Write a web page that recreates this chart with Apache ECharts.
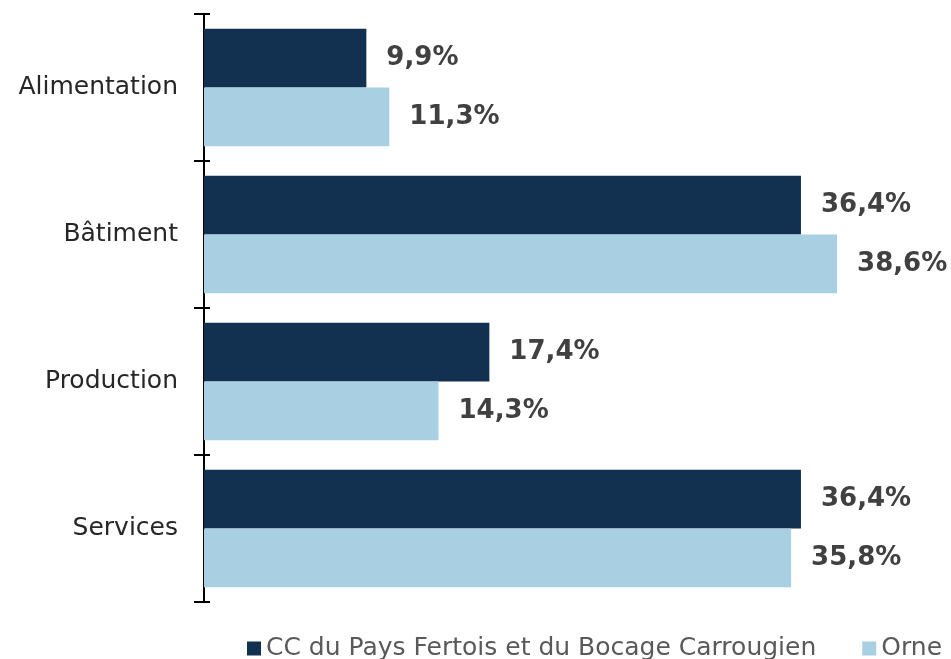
<!DOCTYPE html>
<html><head><meta charset="utf-8">
<script src="https://cdn.jsdelivr.net/npm/echarts@6/dist/echarts.min.js"></script>
<style>html,body{margin:0;padding:0;background:#fff}#c{width:951px;height:659px}</style>
</head><body><div id="c"></div>
<script>
const categories = ["Alimentation", "Bâtiment", "Production", "Services"];
const seriesNames = ["CC du Pays Fertois et du Bocage Carrougien", "Orne"];
const ccValues = [9.9, 36.4, 17.4, 36.4];
const orneValues = [11.3, 38.6, 14.3, 35.8];

const chart = echarts.init(document.getElementById('c'));
const fmt = p => p.value.toFixed(1).replace('.', ',') + '%';
const lbl = {show: true, position: 'right', distance: 20, formatter: fmt,
  fontFamily: 'DejaVu Sans', fontWeight: 'bold', fontSize: 26, color: '#404040'};
chart.setOption({
  animation: false,
  grid: {left: 204, right: 9, top: 14, bottom: 57},
  legend: {top: 636, left: 247, right: 0, itemWidth: 14, itemHeight: 14, itemGap: 46,
    icon: 'rect', padding: 0,
    textStyle: {fontFamily: 'DejaVu Sans', fontSize: 25, color: '#595959'},
    data: seriesNames},
  xAxis: {type: 'value', min: 0, max: 45, show: false},
  yAxis: [{type: 'category', data: categories, inverse: true,
    axisLine: {show: true, lineStyle: {color: '#000', width: 2}},
    axisTick: {show: true, length: 10, lineStyle: {color: '#000', width: 2}},
    axisLabel: {margin: 26, fontFamily: 'DejaVu Sans', fontSize: 25, color: '#262626'}},
   {type: 'category', data: categories, inverse: true, position: 'left',
    axisLine: {show: false},
    axisTick: {show: true, inside: true, length: 6, lineStyle: {color: '#000', width: 2}},
    axisLabel: {show: false}}],
  series: [
    {name: seriesNames[0], type: 'bar', data: ccValues, barGap: '0%', barCategoryGap: '20%',
     itemStyle: {color: '#12304f'}, label: lbl},
    {name: seriesNames[1], type: 'bar', data: orneValues,
     itemStyle: {color: '#a9cfe3'}, label: lbl}
  ]
});
</script></body></html>
